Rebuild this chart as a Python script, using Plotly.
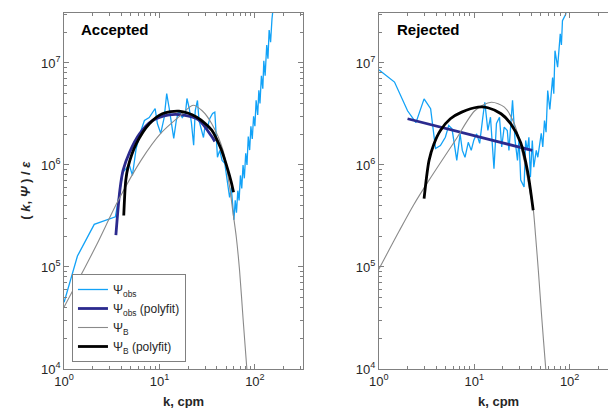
import plotly.graph_objects as go

# ---------------- data ----------------
# Accepted profile
k_obs_acc = [1.0, 1.38, 2.07, 2.76, 3.45, 4.14, 4.83, 5.2, 5.7, 6.4, 6.95, 7.8, 8.5, 9.0, 9.5,
             10.3, 11.2, 11.9, 12.6, 13.6, 14.1, 15.0, 15.9, 17.3, 18.7, 19.4, 20.5, 21.6, 22.8,
             23.7, 25.0, 26.0, 27.8, 28.9, 30.0, 31.3, 33.7, 36.0, 38.0, 40.5, 42.8, 45.3, 48.3,
             51.5, 54.3, 56.5, 58.7, 60.3, 62.2, 64.1, 66.2, 68.3, 70.5, 72.8, 75.1, 77.5, 80.1,
             82.6, 85.2, 88.1, 90.8, 93.8, 96.9, 100, 103, 107, 110, 113, 117, 121, 124, 128,
             133, 137, 141, 146, 151, 155, 160]
psi_obs_acc = [4.5e4, 1.28e5, 2.62e5, 2.87e5, 3.1e5, 8.5e5, 1.0e6, 7.9e5, 1.46e6, 2.18e6,
               2.73e6, 2.92e6, 3.27e6, 3.58e6, 2.55e6, 2.04e6, 2.92e6, 5.0e6, 3.66e6, 2.28e6,
               1.82e6, 2.73e6, 3.42e6, 2.92e6, 3.2e6, 4.49e6, 3.58e6, 2.6e6, 1.56e6, 3.42e6,
               4.29e6, 2.7e6, 2.1e6, 1.86e6, 2.4e6, 2.2e6, 2.86e6, 3.2e6, 3.3e6, 1.19e6,
               1.39e6, 1.11e6, 1.04e6, 7.1e5, 4.8e5, 6.0e5, 3.36e5, 2.9e5, 4.5e5, 3.4e5,
               5.6e5, 4.5e5, 7.9e5, 5.9e5, 1.0e6, 7.4e5, 1.3e6, 1.0e6, 1.9e6, 1.4e6,
               2.4e6, 1.8e6, 3.0e6, 2.4e6, 4.3e6, 3.1e6, 5.4e6, 4.0e6, 7.5e6, 5.6e6,
               1.05e7, 7.5e6, 1.5e7, 1.1e7, 2.1e7, 1.6e7, 2.7e7, 3.6e7, 4.5e7]

k_fit_obs_acc = [3.49, 3.84, 4.15, 4.87, 6.17, 8.48, 12.6, 17.3, 25.7, 35.3, 38.0]
psi_fit_obs_acc = [2.05e5, 5.64e5, 8.85e5, 1.34e6, 2.02e6, 2.73e6, 3.1e6, 3.1e6, 2.77e6, 1.9e6, 1.7e6]

k_B_acc = [1.0, 1.5, 2.2, 3.7, 6.4, 10.3, 16.6, 22.5, 28.0, 35.3, 46.4, 54.3, 58.7, 63.8,
           69.1, 75.0, 82.1, 85.0]
psi_B_acc = [4.05e4, 8.3e4, 1.66e5, 4.5e5, 1.11e6, 2.04e6, 3.06e6, 3.85e6, 3.4e6, 2.54e6,
             1.39e6, 6.1e5, 3.5e5, 1.97e5, 9.2e4, 3.2e4, 1.04e4, 7.0e3]

k_fit_B_acc = [4.22, 4.43, 4.68, 5.70, 7.83, 10.7, 16.0, 24.6, 35.3, 39.6, 44.6, 50.4, 56.5, 59.7]
psi_fit_B_acc = [3.2e5, 7.06e5, 9.55e5, 1.61e6, 2.54e6, 3.18e6, 3.37e6, 2.94e6, 2.2e6, 1.8e6,
                 1.4e6, 9.9e5, 6.8e5, 5.4e5]

# Rejected profile
k_obs_rej = [1.0, 1.46, 2.0, 2.45, 2.98, 3.49, 3.93, 4.42, 4.98, 5.4, 5.85, 6.56, 7.11, 7.5,
             8.0, 8.66, 9.3, 9.9, 10.6, 11.4, 12.3, 12.9, 13.9, 14.8, 16.1, 17.1, 18.4, 19.4,
             20.6, 22.2, 23.1, 25.2, 26.8, 28.4, 29.5, 30.7, 33.3, 34.6, 36.0, 37.4, 38.8,
             40.6, 42.1, 44.7, 46.4, 48.3, 50.4, 52.3, 54.5, 56.6, 58.9, 62.0, 66.3, 68.2,
             70.2, 74.8, 79.7, 82.0, 84.1, 90.9, 95]
psi_obs_rej = [8.6e6, 6.5e6, 3.4e6, 2.6e6, 4.45e6, 3.56e6, 1.45e6, 1.55e6, 1.87e6, 2.44e6,
               2.26e6, 1.11e6, 2.02e6, 1.39e6, 1.19e6, 1.67e6, 1.39e6, 1.75e6, 2.02e6, 1.63e6,
               2.94e6, 4.12e6, 2.18e6, 2.94e6, 9.2e5, 2.55e6, 2.94e6, 1.5e6, 2.35e6, 2.18e6,
               1.39e6, 4.3e6, 1.74e6, 1.11e6, 1.8e6, 7.1e5, 6.1e5, 1.74e6, 1.39e6, 1.87e6,
               7.6e5, 1.74e6, 9.5e5, 1.39e6, 1.19e6, 1.6e6, 2.04e6, 1.5e6, 2.73e6, 2.1e6,
               5.37e6, 3.5e6, 7.2e6, 5.0e6, 1.32e7, 9.1e6, 1.93e7, 1.5e7, 2.6e7, 3.0e7, 4.0e7]

k_fit_obs_rej = [2.0, 40.6]
psi_fit_obs_rej = [2.84e6, 1.39e6]

k_B_rej = [1.0, 1.65, 2.33, 3.36, 6.32, 10.2, 15.1, 20.7, 26.3, 33.3, 39.0, 41.4, 44.0, 47.0,
           51.0, 56.2, 58.0]
psi_B_rej = [9.5e4, 2.29e5, 4.1e5, 7.1e5, 1.74e6, 3.42e6, 4.12e6, 3.69e6, 2.54e6, 1.11e6,
             5.0e5, 3.8e5, 2.0e5, 9.2e4, 3.2e4, 1.0e4, 7.0e3]

k_fit_B_rej = [2.98, 3.36, 3.78, 4.42, 5.62, 7.39, 10.98, 13.9, 19.1, 24.1, 30.7, 36.3, 41.5]
psi_fit_B_rej = [4.68e5, 1.11e6, 1.61e6, 2.18e6, 2.84e6, 3.3e6, 3.69e6, 3.64e6, 3.18e6,
                 2.54e6, 1.65e6, 8.6e5, 3.6e5]

panel_titles = ["Accepted", "Rejected"]
legend_names = ["Ψ<sub>obs</sub>", "Ψ<sub>obs</sub> (polyfit)", "Ψ<sub>B</sub>", "Ψ<sub>B</sub> (polyfit)"]
x_tick_vals = [1, 10, 100]
x_tick_text = ["10<sup>0</sup>", "10<sup>1</sup>", "10<sup>2</sup>"]
y_tick_vals = [1e4, 1e5, 1e6, 1e7]
y_tick_text = ["10<sup>4</sup>", "10<sup>5</sup>", "10<sup>6</sup>", "10<sup>7</sup>"]

# ---------------- styling ----------------
W, H = 608, 408
FONT = "Liberation Sans, Arial, Helvetica, sans-serif"
C_OBS = "#12a2f7"
C_FIT_OBS = "#2b2a8e"
C_B = "#8a8a8a"
C_FIT_B = "#000000"
AX_COL = "#808080"

fig = go.Figure()

panels = [
    (k_obs_acc, psi_obs_acc, k_fit_obs_acc, psi_fit_obs_acc, k_B_acc, psi_B_acc, k_fit_B_acc, psi_fit_B_acc),
    (k_obs_rej, psi_obs_rej, k_fit_obs_rej, psi_fit_obs_rej, k_B_rej, psi_B_rej, k_fit_B_rej, psi_fit_B_rej),
]

for i, (ko, po, kfo, pfo, kb, pb, kfb, pfb) in enumerate(panels):
    xa = "x" if i == 0 else "x2"
    ya = "y" if i == 0 else "y2"
    show = i == 0
    fig.add_trace(go.Scatter(x=ko, y=po, mode="lines", name=legend_names[0], showlegend=show,
                             line=dict(color=C_OBS, width=1.3), xaxis=xa, yaxis=ya))
    fig.add_trace(go.Scatter(x=kfo, y=pfo, mode="lines", name=legend_names[1], showlegend=show,
                             line=dict(color=C_FIT_OBS, width=2.8, shape="spline", smoothing=0.8),
                             xaxis=xa, yaxis=ya))
    fig.add_trace(go.Scatter(x=kb, y=pb, mode="lines", name=legend_names[2], showlegend=show,
                             line=dict(color=C_B, width=1.1, shape="spline", smoothing=0.8),
                             xaxis=xa, yaxis=ya))
    fig.add_trace(go.Scatter(x=kfb, y=pfb, mode="lines", name=legend_names[3], showlegend=show,
                             line=dict(color=C_FIT_B, width=2.8, shape="spline", smoothing=0.8),
                             xaxis=xa, yaxis=ya))

# plot-area geometry in pixels
L1, R1 = 55, 298
L2 = 375
TOP, BOT = 13, 369
x_px_per_dec = 97.0

minor_x = [m * 10 ** e for e in range(0, 3) for m in range(2, 10)]
minor_y = [m * 10 ** e for e in range(4, 8) for m in range(2, 10)]

common_x = dict(type="log", showgrid=False, zeroline=False, showline=True, linecolor=AX_COL,
                linewidth=1, ticks="inside", ticklen=5, tickcolor=AX_COL,
                tickvals=x_tick_vals, ticktext=x_tick_text,
                tickfont=dict(family=FONT, size=13, color="#262626"),
                minor=dict(ticks="inside", ticklen=3, tickcolor=AX_COL, tickvals=minor_x, showgrid=False))
common_y = dict(type="log", showgrid=False, zeroline=False, showline=True, linecolor=AX_COL,
                linewidth=1, ticks="inside", ticklen=5, tickcolor=AX_COL,
                tickvals=y_tick_vals, ticktext=y_tick_text, range=[4, 7.49],
                tickfont=dict(family=FONT, size=13, color="#262626"),
                minor=dict(ticks="inside", ticklen=3, tickcolor=AX_COL, tickvals=minor_y, showgrid=False))

fig.update_layout(
    width=W, height=H,
    margin=dict(l=0, r=0, t=TOP, b=H - BOT),
    paper_bgcolor="white", plot_bgcolor="white",
    xaxis=dict(common_x, domain=[L1 / W, R1 / W], range=[0, (R1 - L1) / x_px_per_dec],
               anchor="y", mirror="allticks"),
    yaxis=dict(common_y, domain=[0, 1], anchor="x", mirror="allticks"),
    xaxis2=dict(common_x, domain=[L2 / W, 1.0], range=[0, (W - L2) / x_px_per_dec],
                anchor="y2", mirror="allticks"),
    yaxis2=dict(common_y, domain=[0, 1], anchor="x2", mirror=False),
    showlegend=True,
    legend=dict(x=63 / W, y=(BOT - 274) / (BOT - TOP), xanchor="left", yanchor="top",
                bgcolor="white", bordercolor=AX_COL, borderwidth=1,
                font=dict(family=FONT, size=12, color="#262626"),
                traceorder="normal", itemwidth=30),
)

annotations = [
    dict(text="<b>" + panel_titles[0] + "</b>", x=70 / W, y=(BOT - 29) / (BOT - TOP),
         xref="paper", yref="paper", xanchor="left", yanchor="middle", showarrow=False,
         font=dict(family=FONT, size=15, color="black")),
    dict(text="<b>" + panel_titles[1] + "</b>", x=391 / W, y=(BOT - 29) / (BOT - TOP),
         xref="paper", yref="paper", xanchor="left", yanchor="middle", showarrow=False,
         font=dict(family=FONT, size=15, color="black")),
    dict(text="<b>k, cpm</b>", x=176.5 / W, y=(BOT - 401) / (BOT - TOP), xref="paper", yref="paper",
         xanchor="center", yanchor="middle", showarrow=False,
         font=dict(family=FONT, size=13, color="#262626")),
    dict(text="<b>k, cpm</b>", x=496.5 / W, y=(BOT - 401) / (BOT - TOP), xref="paper", yref="paper",
         xanchor="center", yanchor="middle", showarrow=False,
         font=dict(family=FONT, size=13, color="#262626")),
    dict(text="<b>( <i>k</i>, <i>Ψ</i> ) / <i>ε</i></b>", x=15 / W, y=(BOT - 190) / (BOT - TOP),
         xref="paper", yref="paper", xanchor="center", yanchor="middle", showarrow=False,
         textangle=-90, font=dict(family=FONT, size=13, color="#262626")),
]
fig.update_layout(annotations=annotations)

fig.write_html("out.html")
